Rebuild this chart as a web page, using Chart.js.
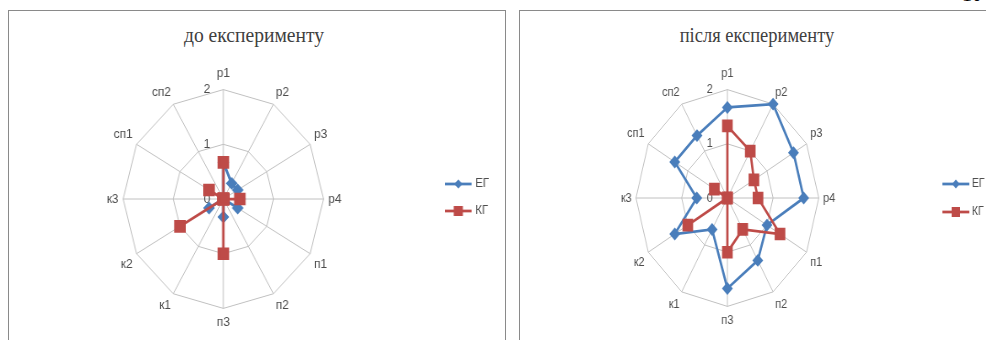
<!DOCTYPE html>
<html>
<head>
<meta charset="utf-8">
<script src="https://cdn.jsdelivr.net/npm/chart.js@4.4.1/dist/chart.umd.min.js"></script>
<style>
  body { margin: 0; width: 986px; height: 340px; overflow: hidden; background: #fff; position: relative; }
  .box { position: absolute; border: 1px solid #8a8a8a; box-sizing: border-box; }
  #boxL { left: 8px; top: 10px; width: 498px; height: 360px; }
  #boxR { left: 519px; top: 10px; width: 490px; height: 360px; }
  .ttl { position: absolute; top: 24px; font: 22px/1 "Liberation Serif", "Times New Roman", serif; color: #404040; white-space: nowrap; }
  #ttlL { left: 254px; transform: translateX(-50%) scaleX(0.89); }
  #ttlR { left: 757px; transform: translateX(-50%) scaleX(0.84); }
  #page { position: absolute; left: 962px; top: -16px; font: 20px/1 "Liberation Serif", serif; color: #000; }
  canvas { position: absolute; transform-origin: 0 0; }
  #cL { left: 9px; top: 65px; transform: scaleX(0.916); }
  #cR { left: 520px; top: 66px; transform: scaleX(0.843); }
</style>
</head>
<body>
<div id="page">10</div>
<div class="box" id="boxL"></div>
<div class="box" id="boxR"></div>
<div class="ttl" id="ttlL">до експерименту</div>
<div class="ttl" id="ttlR">після експерименту</div>
<canvas id="cL" width="540" height="267"></canvas>
<canvas id="cR" width="553" height="264"></canvas>
<script>
// axes, clockwise from the top
var labels = ["р1", "р2", "р3", "р4", "п1", "п2", "п3", "к1", "к2", "к3", "сп1", "сп2"];
var seriesNames = ["ЕГ", "КГ"];
var tickValues = [0, 1, 2];

// до експерименту
var egBefore = [0.67, 0.33, 0.33, 0.33, 0.33, 0, 0.33, 0, 0.33, 0, 0, 0];
var kgBefore = [0.67, 0, 0, 0.33, 0, 0, 1, 0, 1, 0, 0.33, 0];

// після експерименту
var egAfter = [1.67, 2, 1.67, 1.67, 1, 1.33, 1.67, 0.67, 1.33, 0.67, 1.33, 1.33];
var kgAfter = [1.33, 1, 0.67, 0.67, 1.33, 0.67, 1, 0, 1, 0, 0.33, 0];

var BLUE = "#4a7ebb";
var RED = "#be4b48";
var GRID = "#c0c0c0";
var TEXT = "#4d4d4d";

// Excel puts the value labels just left of the vertical axis
var tickLabels = {
  id: "tickLabels",
  beforeDatasetsDraw: function (chart, args, opts) {
    var s = chart.scales.r, ctx = chart.ctx;
    ctx.save();
    ctx.font = '13px "Liberation Sans", sans-serif';
    ctx.fillStyle = TEXT;
    ctx.textAlign = "center";
    ctx.textBaseline = "middle";
    tickValues.forEach(function (v) {
      ctx.fillText(String(v), s.xCenter - opts.dx, s.yCenter - s.getDistanceFromCenterForValue(v));
    });
    ctx.restore();
  }
};

// line + marker legend on the right, as in the original
var sideLegend = {
  id: "sideLegend",
  afterDraw: function (chart, args, o) {
    var ctx = chart.ctx;
    chart.data.datasets.forEach(function (ds, i) {
      var y = o.y[i], c = ds.borderColor;
      ctx.save();
      ctx.strokeStyle = c;
      ctx.fillStyle = c;
      ctx.lineWidth = 2.75;
      ctx.beginPath();
      ctx.moveTo(o.x0, y);
      ctx.lineTo(o.x1, y);
      ctx.stroke();
      var m = (o.x0 + o.x1) / 2;
      ctx.beginPath();
      if (ds.pointStyle === "rect") {
        ctx.rect(m - 5, y - 5, 10, 10);
      } else {
        ctx.moveTo(m - 4.5, y); ctx.lineTo(m, y - 4.5);
        ctx.lineTo(m + 4.5, y); ctx.lineTo(m, y + 4.5);
        ctx.closePath();
      }
      ctx.fill();
      ctx.font = '12.5px "Liberation Sans", sans-serif';
      ctx.fillStyle = TEXT;
      ctx.textAlign = "left";
      ctx.textBaseline = "middle";
      ctx.fillText(ds.label, o.xt, y);
      ctx.restore();
    });
  }
};

function makeRadar(id, eg, kg, padRight, tickDx, leg) {
  return new Chart(document.getElementById(id), {
    type: "radar",
    data: {
      labels: labels,
      datasets: [{
        label: seriesNames[0],
        data: eg,
        borderColor: BLUE,
        backgroundColor: BLUE,
        borderWidth: 2.75,
        pointStyle: "rectRot",
        pointRadius: 4.5,
        pointBackgroundColor: BLUE,
        pointBorderColor: BLUE,
        fill: false,
        order: 1
      }, {
        label: seriesNames[1],
        data: kg,
        borderColor: RED,
        backgroundColor: RED,
        borderWidth: 2.75,
        pointStyle: "rect",
        pointRadius: 7,
        pointBackgroundColor: RED,
        pointBorderColor: RED,
        fill: false,
        order: 0
      }]
    },
    options: {
      responsive: false,
      animation: false,
      layout: { padding: { left: 0, right: padRight, top: 0, bottom: 0 } },
      elements: { line: { tension: 0 } },
      plugins: {
        legend: { display: false },
        tooltip: { enabled: false },
        tickLabels: { dx: tickDx },
        sideLegend: leg
      },
      scales: {
        r: {
          min: 0,
          max: 2,
          ticks: { stepSize: 1, display: false },
          grid: { color: GRID, lineWidth: 1 },
          angleLines: { color: GRID, lineWidth: 1 },
          pointLabels: {
            color: TEXT,
            font: { family: '"Liberation Sans", sans-serif', size: 13 },
            padding: function (c) { return c.index === 0 ? 8 : (c.index === 6 ? 6.5 : 5); }
          }
        }
      }
    },
    plugins: [tickLabels, sideLegend]
  });
}

makeRadar("cL", egBefore, kgBefore, 72, 18, { x0: 476, x1: 505, xt: 509, y: [119, 146] });
makeRadar("cR", egAfter, kgAfter, 61, 21, { x0: 501, x1: 533, xt: 536, y: [118, 146] });
</script>
</body>
</html>
